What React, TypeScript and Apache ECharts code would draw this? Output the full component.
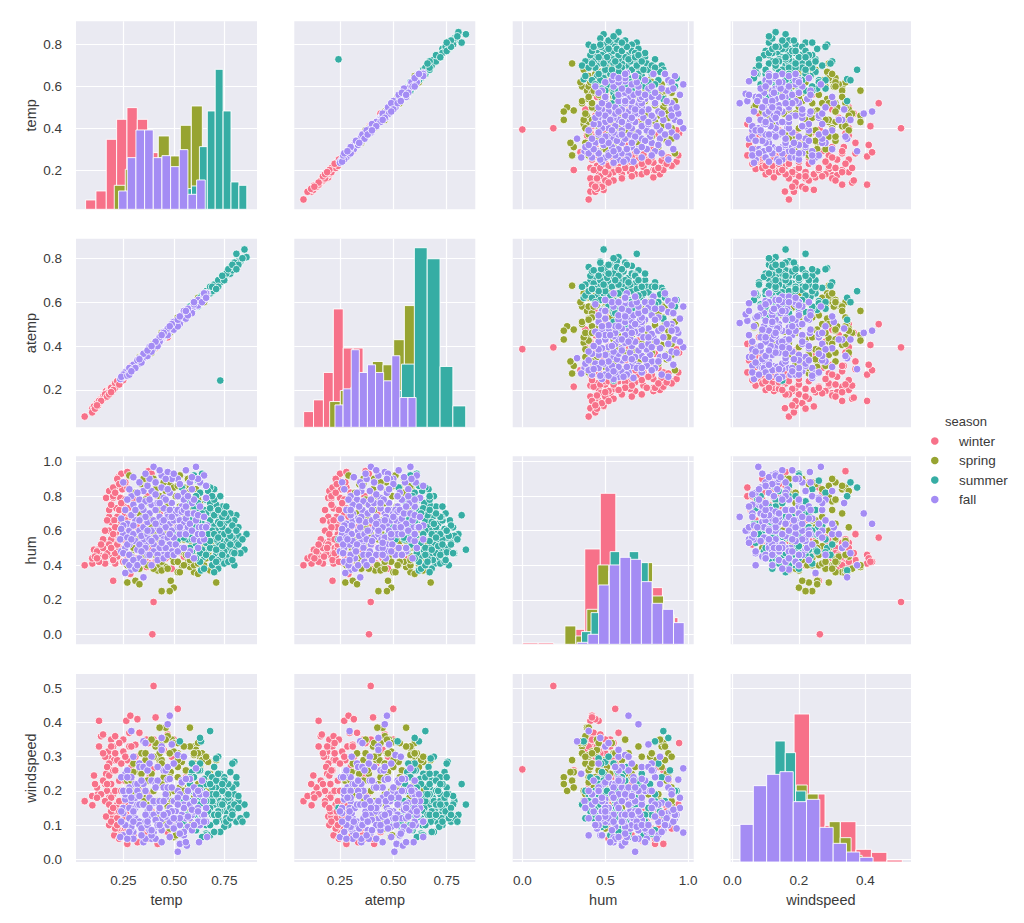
import React, { useEffect, useRef } from "react";
import * as echarts from "echarts";

const variables = ["temp", "atemp", "hum", "windspeed"];
const seasons = ["winter", "spring", "summer", "fall"];
const colors = ["#f77189", "#97a431", "#36ada4", "#a48cf4"];

// each row: temp, atemp, hum, windspeed
const winterRows = [
[.059,.079,.40,.17],[.097,.117,.41,.158],[.096,.098,.44,.185],[.105,.125,.49,.245],[.125,.128,.49,.19],[.13,.15,.46,.405],[.14,.16,.44,.36],[.15,.165,.42,.365],[.16,.17,.41,.22],[.165,.19,.53,.25],
[.17,.18,.60,.20],[.175,.185,.53,.30],[.175,.19,.47,.315],[.18,.195,.68,.18],[.18,.20,.60,.245],[.165,.195,.79,.125],[.18,.20,.83,.10],[.19,.20,.53,.35],[.19,.205,.46,.22],[.20,.21,.65,.19],
[.20,.21,.79,.125],[.20,.215,.31,.26],[.205,.22,.55,.29],[.21,.22,.41,.36],[.21,.225,.50,.20],[.215,.22,.73,.14],[.22,.23,.86,.16],[.22,.235,.68,.15],[.22,.23,.45,.29],[.225,.24,.91,.12],
[.23,.24,.58,.23],[.235,.25,.79,.085],[.24,.25,.93,.20],[.24,.245,.65,.115],[.245,.255,.84,.12],[.25,.26,.47,.315],[.25,.26,.75,.135],[.25,.26,.55,.24],[.26,.27,.70,.10],[.265,.27,.41,.405],
[.27,.275,.45,.29],[.27,.28,.85,.045],[.275,.28,.73,.14],[.28,.285,.53,.33],[.285,.29,.42,.42],[.285,.29,.35,.25],[.29,.30,.62,.16],[.32,.315,.44,.41],[.30,.305,.78,.07],[.31,.31,.50,.335],
[.32,.32,.68,.11],[.33,.33,.43,.37],[.33,.335,.55,.20],[.34,.34,.72,.055],[.35,.345,.48,.26],[.36,.355,.60,.07],[.365,.36,.39,.35],[.375,.37,.945,.34],[.38,.375,.41,.17],[.39,.385,.93,.14],
[.394,.386,0,.263],[.40,.394,.187,.507],[.40,.395,.40,.35],[.41,.405,.42,.415],[.42,.41,.80,.045],[.43,.42,.41,.28],[.44,.43,.58,.12],[.45,.44,.38,.32],[.46,.45,.44,.35],[.47,.46,.47,.365],
[.48,.47,.52,.16],[.49,.475,.38,.30],[.50,.49,.62,.11],[.52,.50,.56,.44],[.54,.52,.47,.30],[.56,.54,.50,.24],[.57,.555,.70,.12],[.27,.28,.94,.16],[.22,.23,.90,.09],[.20,.215,.85,.26],
[.20,.21,.80,.14],[.26,.27,.78,.09],[.19,.205,.65,.18],[.19,.205,.55,.14],[.18,.195,.52,.28],[.17,.185,.47,.27],[.16,.175,.45,.30],[.12,.14,.48,.21],[.15,.17,.50,.31],[.20,.215,.43,.33],
[.13,.15,.42,.33],[.205,.22,.66,.07],[.25,.26,.60,.17],[.28,.29,.68,.20],[.22,.235,.62,.12],[.23,.245,.72,.06],[.26,.275,.88,.23],[.29,.30,.82,.27],[.24,.25,.56,.28],[.21,.225,.47,.31],
[.28,.295,.58,.37],[.37,.365,.80,.06],[.31,.315,.44,.30],[.35,.35,.65,.09],[.41,.40,.52,.06],[.30,.31,.40,.22],[.43,.425,.70,.13],[.38,.38,.56,.19],[.23,.24,.50,.17],[.26,.27,.62,.30],
[.15,.16,.55,.23],[.16,.18,.60,.17],[.14,.15,.52,.19],[.11,.115,.45,.22],[.12,.13,.44,.18],[.17,.17,.66,.22],[.18,.18,.72,.16],[.19,.21,.75,.11],[.21,.21,.62,.26],[.21,.23,.82,.09],
[.23,.235,.87,.14],[.24,.26,.76,.07],[.26,.26,.66,.125],[.27,.285,.52,.09],[.28,.28,.46,.25],[.29,.31,.40,.33],[.25,.245,.42,.35],[.22,.24,.52,.10],[.20,.20,.58,.15],[.30,.295,.55,.12],
[.32,.335,.62,.05],[.34,.35,.52,.28],[.36,.37,.44,.31],[.38,.365,.50,.24],[.41,.39,.62,.30],[.44,.45,.46,.32],[.47,.44,.60,.08],[.50,.50,.50,.35],[.53,.52,.64,.20],[.55,.56,.45,.33],
[.23,.225,.55,.34],[.19,.19,.50,.33],
];

const springRows = [
[.71,.675,.30,.29],[.60,.58,.36,.33],[.62,.60,.35,.34],[.58,.56,.39,.385],[.52,.50,.36,.31],[.485,.475,.31,.255],[.50,.49,.27,.20],[.48,.47,.25,.24],[.44,.43,.25,.22],[.42,.415,.37,.17],
[.46,.45,.39,.385],[.49,.48,.45,.35],[.43,.425,.40,.385],[.44,.44,.37,.34],[.47,.46,.38,.36],[.27,.275,.30,.23],[.31,.31,.31,.21],[.33,.33,.29,.255],[.27,.28,.40,.24],[.28,.29,.92,.20],
[.34,.34,.87,.25],[.53,.51,.92,.20],[.48,.47,.88,.31],[.43,.42,.80,.29],[.63,.60,.77,.30],[.60,.575,.70,.18],[.60,.58,.50,.28],[.65,.62,.40,.30],[.57,.55,.42,.17],[.53,.51,.36,.345],
[.50,.49,.42,.315],[.54,.525,.48,.285],[.56,.54,.46,.26],[.64,.61,.44,.31],[.61,.585,.45,.32],[.63,.60,.51,.27],[.59,.565,.53,.25],[.55,.53,.55,.20],[.52,.505,.59,.13],[.50,.485,.56,.065],
[.54,.52,.62,.10],[.44,.43,.62,.10],[.40,.395,.58,.20],[.37,.365,.52,.23],[.30,.305,.50,.255],[.29,.30,.46,.23],[.35,.35,.45,.18],[.33,.33,.70,.19],[.38,.375,.76,.14],[.41,.405,.84,.33],
[.45,.44,.88,.24],[.47,.46,.76,.19],[.51,.495,.80,.07],[.55,.53,.85,.17],[.57,.55,.82,.17],[.61,.585,.84,.27],[.49,.48,.70,.17],[.53,.515,.74,.21],[.58,.56,.66,.24],[.62,.595,.62,.22],
[.66,.63,.55,.20],[.44,.435,.50,.29],[.41,.41,.46,.34],[.39,.385,.66,.25],[.36,.36,.60,.29],[.32,.325,.55,.21],[.45,.445,.58,.26],[.48,.475,.64,.31],[.52,.50,.68,.27],[.56,.54,.60,.15],
[.59,.57,.74,.105],[.63,.605,.68,.12],[.67,.64,.47,.285],[.69,.66,.52,.18],[.57,.55,.90,.21],[.62,.60,.90,.16],[.50,.49,.85,.34],[.46,.45,.66,.11],[.42,.41,.72,.13],[.38,.38,.68,.16],
[.60,.58,.40,.305],[.47,.465,.55,.155],[.54,.525,.40,.225],[.37,.36,.87,.23],[.43,.43,.55,.31],
[.30,.31,.38,.28],[.34,.33,.42,.31],[.37,.38,.40,.26],[.40,.385,.38,.30],[.52,.53,.42,.24],[.55,.52,.40,.20],[.58,.58,.43,.21],[.62,.62,.41,.27],[.66,.65,.44,.24],[.68,.64,.37,.20],
[.64,.63,.60,.29],[.66,.64,.72,.30],[.62,.60,.78,.31],[.58,.58,.86,.33],[.52,.50,.86,.29],[.46,.47,.83,.35],[.40,.41,.90,.30],[.36,.37,.78,.31],[.31,.32,.82,.19],[.35,.36,.90,.17],
[.48,.46,.50,.09],[.55,.56,.70,.33],[.60,.60,.56,.31],[.44,.46,.42,.28],[.33,.35,.38,.19],[.39,.37,.62,.35],[.52,.53,.54,.34],[.68,.66,.62,.25],[.65,.60,.50,.22],
];

const summerRows = [
[.85,.84,.49,.16],[.86,.805,.58,.13],[.81,.82,.69,.22],[.82,.786,.57,.17],[.80,.76,.40,.19],[.81,.77,.53,.11],[.79,.75,.56,.21],[.78,.74,.45,.17],[.77,.735,.49,.13],[.76,.72,.59,.14],
[.80,.755,.50,.285],[.79,.75,.475,.28],[.78,.74,.61,.255],[.75,.71,.64,.205],[.76,.72,.45,.19],[.74,.705,.44,.15],[.75,.705,.53,.11],[.73,.243,.55,.15],[.73,.695,.41,.14],[.72,.69,.52,.30],
[.71,.675,.46,.295],[.72,.68,.38,.20],[.70,.67,.36,.16],[.70,.665,.63,.27],[.71,.68,.60,.17],[.72,.685,.68,.18],[.74,.70,.74,.20],[.73,.69,.80,.17],[.71,.67,.75,.21],[.70,.665,.84,.24],
[.69,.655,.70,.21],[.68,.65,.85,.375],[.68,.65,.66,.14],[.67,.64,.49,.25],[.66,.635,.62,.10],[.66,.63,.78,.075],[.65,.625,.45,.235],[.64,.61,.93,.20],[.635,.62,.37,.345],[.63,.60,.88,.355],
[.63,.605,.57,.26],[.62,.595,.89,.26],[.62,.60,.72,.17],[.61,.585,.52,.15],[.60,.58,.92,.20],[.60,.575,.67,.10],[.59,.565,.48,.255],[.585,.565,.60,.09],[.58,.555,.77,.22],[.57,.55,.55,.13],
[.55,.535,.64,.11],[.53,.52,.80,.345],[.52,.51,.55,.18],[.50,.49,.60,.12],[.48,.47,.57,.14],[.83,.785,.47,.12],[.82,.78,.62,.185],[.80,.765,.66,.15],[.78,.745,.70,.16],[.77,.73,.66,.10],
[.75,.715,.48,.095],[.74,.70,.62,.23],[.73,.70,.58,.25],[.72,.685,.43,.12],[.70,.67,.50,.19],[.69,.66,.44,.13],[.68,.645,.76,.15],[.67,.635,.83,.14],[.66,.63,.53,.07],[.65,.62,.72,.16],
[.64,.61,.64,.065],[.63,.60,.82,.28],[.62,.59,.58,.20],[.61,.59,.80,.085],[.60,.57,.60,.24],[.59,.57,.55,.28],[.77,.73,.55,.22],[.76,.725,.68,.12],[.75,.72,.58,.17],[.74,.71,.51,.20],
[.73,.70,.47,.16],[.72,.68,.65,.14],[.71,.675,.55,.11],[.70,.66,.69,.13],[.69,.65,.60,.24],[.68,.65,.50,.10],[.67,.64,.58,.18],[.66,.63,.70,.22],[.65,.63,.38,.12],[.64,.61,.49,.17],
[.63,.61,.47,.21],[.62,.60,.65,.13],[.61,.58,.62,.085],[.58,.56,.50,.17],[.56,.54,.72,.09],[.54,.525,.85,.13],[.70,.67,.78,.13],[.68,.64,.73,.07],[.75,.72,.41,.24],[.78,.73,.52,.15],
[.73,.69,.64,.08],[.71,.68,.49,.23],[.77,.74,.42,.18],[.79,.745,.43,.14],[.69,.65,.40,.17],
[.58,.57,.66,.20],[.60,.60,.74,.13],[.62,.58,.76,.10],[.64,.63,.70,.12],[.66,.65,.46,.19],[.68,.67,.54,.22],[.70,.68,.58,.08],[.72,.70,.56,.13],[.74,.72,.68,.16],[.76,.73,.74,.11],
[.78,.76,.57,.12],[.80,.78,.47,.16],[.82,.77,.52,.15],[.84,.80,.55,.11],[.77,.75,.60,.19],[.75,.70,.70,.23],[.72,.67,.72,.25],[.69,.67,.80,.19],[.66,.62,.86,.17],[.63,.62,.42,.16],
[.61,.60,.44,.20],[.58,.58,.58,.24],[.55,.55,.56,.17],[.52,.49,.62,.10],[.71,.66,.42,.19],[.74,.72,.46,.22],[.79,.77,.63,.13],[.81,.75,.60,.24],
];

const fallRows = [
[.40,.395,.97,.078],[.61,.58,.97,.266],[.44,.43,.92,.118],[.47,.46,.94,.233],[.38,.375,.90,.135],[.25,.26,.88,.135],[.29,.30,.80,.24],[.33,.33,.78,.28],[.35,.35,.83,.22],[.39,.39,.83,.30],
[.45,.44,.79,.26],[.49,.48,.76,.336],[.52,.50,.90,.20],[.58,.555,.88,.235],[.63,.605,.88,.10],[.66,.625,.79,.15],[.63,.60,.74,.20],[.59,.57,.84,.165],[.55,.53,.82,.07],[.54,.52,.74,.23],
[.50,.485,.72,.17],[.48,.47,.64,.42],[.47,.46,.70,.395],[.35,.345,.33,.345],[.29,.30,.375,.17],[.26,.275,.355,.25],[.29,.295,.40,.375],[.44,.43,.47,.355],[.44,.43,.50,.33],[.36,.355,.52,.34],
[.52,.505,.68,.022],[.53,.515,.60,.045],[.565,.545,.60,.04],[.625,.595,.62,.05],[.665,.64,.63,.065],[.30,.31,.75,.08],[.30,.31,.70,.06],[.35,.35,.55,.05],[.31,.31,.66,.12],[.24,.255,.67,.24],
[.25,.26,.58,.15],[.24,.25,.48,.14],[.26,.27,.50,.175],[.25,.265,.47,.07],[.235,.25,.55,.065],[.28,.285,.60,.21],[.27,.28,.64,.26],[.28,.295,.52,.15],[.29,.30,.45,.09],[.30,.305,.58,.30],
[.31,.31,.54,.22],[.32,.32,.49,.22],[.30,.305,.63,.135],[.33,.335,.60,.27],[.33,.33,.52,.11],[.34,.335,.67,.23],[.34,.34,.57,.16],[.35,.355,.72,.27],[.35,.345,.62,.10],[.36,.36,.50,.11],
[.36,.36,.77,.20],[.37,.365,.58,.26],[.37,.37,.65,.14],[.38,.38,.70,.085],[.38,.375,.55,.18],[.39,.39,.60,.23],[.39,.385,.75,.06],[.40,.40,.66,.165],[.40,.395,.52,.13],[.41,.40,.72,.115],
[.41,.41,.56,.22],[.42,.415,.62,.095],[.42,.41,.76,.27],[.43,.42,.68,.14],[.43,.43,.50,.16],[.44,.43,.58,.32],[.44,.435,.65,.09],[.45,.44,.73,.21],[.45,.445,.55,.13],[.46,.45,.62,.18],
[.46,.455,.78,.26],[.47,.46,.56,.27],[.47,.465,.68,.10],[.48,.47,.52,.15],[.48,.475,.72,.235],[.49,.48,.60,.12],[.49,.475,.48,.14],[.50,.49,.66,.28],[.50,.49,.56,.095],[.51,.50,.70,.14],
[.51,.495,.52,.12],[.52,.51,.62,.305],[.52,.51,.72,.115],[.53,.52,.58,.19],[.53,.515,.66,.10],[.54,.525,.50,.225],[.54,.52,.71,.13],[.55,.535,.64,.30],[.55,.53,.72,.16],[.56,.54,.58,.235],
[.56,.54,.67,.12],[.57,.55,.70,.20],[.57,.55,.62,.095],[.58,.56,.64,.16],[.58,.56,.48,.12],[.59,.57,.60,.13],[.59,.575,.76,.085],[.60,.58,.55,.21],[.60,.58,.70,.14],[.61,.59,.66,.19],
[.62,.60,.69,.11],[.62,.60,.58,.15],[.63,.60,.54,.19],[.64,.615,.62,.13],[.65,.625,.68,.17],[.26,.27,.42,.19],[.27,.28,.56,.06],[.28,.29,.40,.12],[.31,.32,.38,.15],[.33,.32,.44,.10],
[.37,.36,.46,.12],[.40,.39,.48,.17],[.42,.42,.46,.10],[.29,.30,.69,.095],[.32,.33,.82,.16],[.41,.41,.88,.21],[.44,.44,.85,.085],[.34,.34,.74,.09],[.48,.47,.82,.11],[.55,.54,.78,.08],
[.49,.485,.90,.14],[.36,.35,.68,.06],[.46,.45,.50,.125],[.38,.385,.46,.28],[.43,.43,.60,.17],
[.36,.37,.93,.13],[.30,.315,.91,.11],[.33,.345,.88,.16],[.43,.42,.95,.15],[.50,.475,.93,.09],[.56,.525,.95,.18],[.65,.61,.92,.13],[.62,.585,.90,.20],[.66,.64,.86,.11],[.59,.55,.91,.145],
[.53,.50,.87,.12],[.46,.47,.90,.19],[.41,.42,.81,.06],[.37,.355,.86,.10],[.27,.29,.78,.20],[.26,.28,.72,.10],[.25,.27,.63,.20],[.24,.26,.61,.11],[.27,.265,.52,.24],[.28,.30,.46,.20],
[.30,.295,.43,.14],[.32,.335,.40,.20],[.35,.365,.42,.16],[.39,.375,.40,.07],[.42,.40,.43,.23],[.45,.465,.44,.17],[.47,.45,.46,.21],[.50,.51,.46,.12],[.52,.49,.48,.18],[.55,.56,.50,.15],
[.57,.54,.46,.20],[.60,.59,.44,.10],[.62,.61,.50,.14],[.65,.64,.55,.11],[.64,.60,.58,.23],[.66,.62,.62,.19],[.60,.60,.78,.17],[.57,.57,.80,.125],[.52,.52,.80,.16],[.47,.48,.84,.135],
[.43,.44,.76,.10],[.38,.395,.78,.15],[.31,.30,.72,.18],[.28,.27,.84,.08],[.34,.325,.48,.07],[.37,.38,.60,.11],[.41,.42,.64,.21],[.45,.46,.66,.13],[.49,.50,.68,.21],[.53,.535,.62,.075],
[.56,.56,.74,.05],[.44,.45,.53,.05],[.48,.49,.58,.065],[.39,.40,.54,.085],[.33,.34,.66,.185],[.29,.285,.55,.18],
];

const scatterRows = [winterRows, springRows, summerRows, fallRows];

// per-variable axis limits and tick labels
const axisMin = [0.016, 0.036, -0.058, -0.005];
const axisMax = [0.912, 0.884, 1.033, 0.537];
const yAxisMin = [0.012, 0.03, -0.058, -0.008];
const yAxisMax = [0.912, 0.889, 1.031, 0.542];
const xTicks = [[0.25, 0.5, 0.75], [0.25, 0.5, 0.75], [0, 0.5, 1], [0, 0.2, 0.4]];
const yTicks = [[0.2, 0.4, 0.6, 0.8], [0.2, 0.4, 0.6, 0.8], [0, 0.2, 0.4, 0.6, 0.8, 1], [0, 0.1, 0.2, 0.3, 0.4, 0.5]];
const xDigits = [2, 2, 1, 1];

// histogram heights per diagonal panel; bins per season: start, width, heights
const histMax = 56.4;
const tempHist = [
  { start: 0.0635, width: 0.0512, heights: [2.8, 5.5, 21, 27, 30.5, 27, 17, 10, 6] },
  { start: 0.2054, width: 0.0545, heights: [7.2, 12, 15, 12, 22, 16, 25.2, 31] },
  { start: 0.5487, width: 0.0391, heights: [6.2, 7, 18.8, 29.5, 42, 29.5, 8.2, 7.2] },
  { start: 0.2269, width: 0.0429, heights: [5.5, 15.5, 23.8, 23.8, 15.5, 16.1, 12.8, 17.9, 4.5, 8.8] },
];
const atempHist = [
  { start: 0.0797, width: 0.0464, heights: [4.7, 8.2, 16.4, 35.4, 23.7, 23.7, 14, 9] },
  { start: 0.2016, width: 0.05, heights: [7.7, 11, 12, 15, 19.7, 18.7, 26.2, 36.4] },
  { start: 0.478, width: 0.0602, heights: [11, 18.9, 53.7, 50.4, 18.2, 6.4] },
  { start: 0.2266, width: 0.038, heights: [6.7, 11.5, 23.2, 16.4, 18.7, 16.4, 13.9, 21.4, 8.9, 8.9] },
];
const humHist = [
  { start: 0.002, width: 0.0936, heights: [0.4, 0.4, 0, 4.5, 28.6, 45.3, 22, 17, 17, 8] },
  { start: 0.2565, width: 0.0661, heights: [5.5, 2.5, 10.5, 23.8, 22, 24, 25, 24.5, 14.5, 8.8] },
  { start: 0.3567, width: 0.0575, heights: [3.8, 9.5, 12, 27.8, 24, 27.8, 24.5, 10] },
  { start: 0.3307, width: 0.0645, heights: [0.6, 3, 17.8, 23.8, 26.1, 25.5, 18.8, 12.3, 10.5, 6.5] },
];
const windHist = [
  { start: 0.046, width: 0.0465, heights: [8, 9, 14, 44.4, 20.4, 11, 12.1, 3.8, 2.9, 0.6] },
  { start: 0.093, width: 0.033, heights: [10, 15, 22, 23.1, 20.4, 9, 12.1, 7.3, 2] },
  { start: 0.066, width: 0.031, heights: [12, 22, 36.3, 32.8, 21.3, 15, 8, 5] },
  { start: 0.023, width: 0.04, heights: [11.3, 22.9, 26.3, 27.1, 18.1, 18.8, 10.4, 5.6, 3, 1.4] },
];
const histograms = [tempHist, atempHist, humHist, windHist];

const colLeft = [76, 294.3, 512.7, 730.7];
const colWidth = [181, 181, 181, 180.3];
const rowTop = [21.3, 238.7, 456.3, 674];
const rowHeight = [188, 188.6, 188, 188];
const FONT = '"Liberation Sans", Arial, sans-serif';
const TEXT = "#3a3a3a";

function renderBar(_: any, api: any) {
  const a = api.coord([api.value(0), 0]);
  const b = api.coord([api.value(1), api.value(2)]);
  return {
    type: "rect",
    shape: { x: a[0], y: b[1], width: b[0] - a[0], height: a[1] - b[1] },
    style: { fill: api.visual("color"), stroke: "#ffffff", lineWidth: 0.9 },
  };
}

function buildOption() {
  const grid: any[] = [];
  const xAxis: any[] = [];
  const yAxis: any[] = [];
  const series: any[] = [];
  const split = { show: true, lineStyle: { color: "#ffffff", width: 1.2 } };

  for (let r = 0; r < 4; r++) {
    for (let c = 0; c < 4; c++) {
      const gi = grid.length;
      grid.push({
        show: true, backgroundColor: "#eaeaf2", borderWidth: 0,
        left: colLeft[c], top: rowTop[r], width: colWidth[c], height: rowHeight[r],
      });
      xAxis.push({
        type: "value", gridIndex: gi, min: axisMin[c], max: axisMax[c],
        axisLine: { show: false }, axisTick: { show: false, customValues: xTicks[c] }, splitLine: split,
        name: r === 3 ? variables[c] : "", nameLocation: "middle", nameGap: 30,
        nameTextStyle: { fontFamily: FONT, fontSize: 14.5, color: TEXT },
        axisLabel: {
          show: r === 3, customValues: xTicks[c], margin: 11, hideOverlap: false,
          fontFamily: FONT, fontSize: 13.5, color: TEXT,
          formatter: (v: number) => v.toFixed(xDigits[c]),
        },
      });
      const yi = yAxis.length;
      yAxis.push({
        type: "value", gridIndex: gi, min: yAxisMin[r], max: yAxisMax[r],
        axisLine: { show: false }, axisTick: { show: false, customValues: yTicks[r] }, splitLine: split,
        name: c === 0 ? variables[r] : "", nameLocation: "middle", nameGap: 38, nameRotate: 90,
        nameTextStyle: { fontFamily: FONT, fontSize: 14.5, color: TEXT },
        axisLabel: {
          show: c === 0, customValues: yTicks[r], margin: 14, hideOverlap: false,
          fontFamily: FONT, fontSize: 13.5, color: TEXT,
          formatter: (v: number) => v.toFixed(1),
        },
      });
      if (r === c) {
        const hi = yAxis.length;
        yAxis.push({ type: "value", gridIndex: gi, min: 0, max: histMax, show: false, splitLine: { show: false } });
        histograms[c].forEach((h, s) => {
          series.push({
            type: "custom", name: seasons[s], xAxisIndex: gi, yAxisIndex: hi,
            itemStyle: { color: colors[s] }, renderItem: renderBar, clip: true,
            encode: { x: [0, 1], y: 2 },
            data: h.heights.map((v, i) => [h.start + i * h.width, h.start + (i + 1) * h.width, v]),
          });
        });
      } else {
        scatterRows.forEach((rows, s) => {
          series.push({
            type: "scatter", name: seasons[s], xAxisIndex: gi, yAxisIndex: yi,
            symbolSize: 7.6, itemStyle: { color: colors[s], opacity: 1, borderColor: "#ffffff", borderWidth: 0.8 },
            data: rows.map((row) => [row[c], row[r]]),
          });
        });
      }
    }
  }
  return {
    animation: false,
    backgroundColor: "#ffffff",
    grid, xAxis, yAxis, series,
    legend: {
      data: seasons, orient: "vertical", left: 926, top: 429, icon: "circle",
      itemWidth: 38.6, itemHeight: 7.6, itemGap: 5.5,
      textStyle: { fontFamily: FONT, fontSize: 13.5, color: TEXT },
      selectedMode: false,
    },
    graphic: [{
      type: "text", left: 945, top: 415,
      style: { text: "season", font: `13px ${FONT}`, fill: TEXT },
    }],
  };
}

export default function App() {
  const ref = useRef<HTMLDivElement>(null);
  useEffect(() => {
    document.body.style.margin = "0";
    const chart = echarts.init(ref.current!, undefined, { renderer: "svg" });
    chart.setOption(buildOption() as any);
    return () => chart.dispose();
  }, []);
  return <div ref={ref} style={{ position: "absolute", left: 0, top: 0, width: 1024, height: 923 }} />;
}
